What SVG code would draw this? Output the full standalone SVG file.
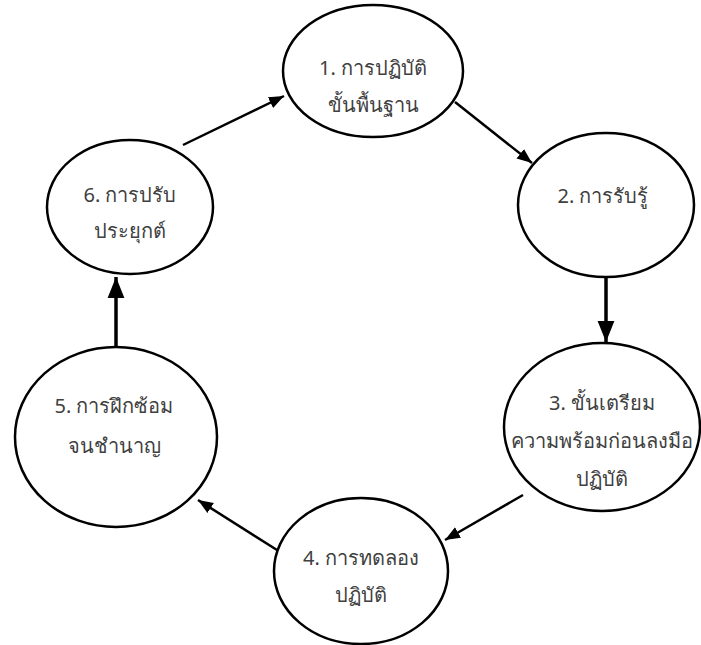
<svg xmlns="http://www.w3.org/2000/svg" width="701" height="645" viewBox="0 0 701 645">
<style>
.n{fill:#fff;stroke:#000;stroke-width:2.5}
.t{font-family:"Noto Sans","DejaVu Sans",sans-serif;font-size:20px;fill:#404040;text-anchor:middle}
.c{stroke:#000;stroke-width:2.5;fill:none}
.cb{stroke:#000;stroke-width:3.5;fill:none}
</style>
<defs>
<marker id="ah" viewBox="0 0 10 10" refX="10" refY="5" markerWidth="7" markerHeight="7" markerUnits="userSpaceOnUse" orient="auto">
<path d="M0,0 L10,5 L0,10 z" fill="#000"/>
</marker>
<marker id="a" viewBox="0 0 10 10" refX="10" refY="5" markerWidth="6" markerHeight="6" orient="auto">
<path d="M0,1 L10,5 L0,9 z" fill="#000"/>
</marker>
</defs>
<g id="connectors">
<line class="c" x1="183" y1="145" x2="284" y2="96" marker-end="url(#a)"/>
<line class="c" x1="455" y1="102" x2="532" y2="163" marker-end="url(#a)"/>
<line class="cb" x1="606" y1="278" x2="606" y2="342" marker-end="url(#a)"/>
<line class="c" x1="523" y1="495" x2="445" y2="540" marker-end="url(#a)"/>
<line class="c" x1="277" y1="550" x2="198" y2="500" marker-end="url(#a)"/>
<line class="cb" x1="116" y1="347" x2="116" y2="277" marker-end="url(#a)"/>
</g>
<g id="node1">
<ellipse class="n" cx="373" cy="71" rx="90" ry="66"/>
<text class="t" x="373" y="75">1. การปฏิบัติ</text>
<text class="t" x="373" y="112">ขั้นพื้นฐาน</text>
</g>
<g id="node2">
<ellipse class="n" cx="606" cy="205" rx="88" ry="72"/>
<text class="t" x="603" y="203">2. การรับรู้</text>
</g>
<g id="node3">
<ellipse class="n" cx="602" cy="427" rx="98" ry="84"/>
<text class="t" x="602" y="410">3. ขั้นเตรียม</text>
<text class="t" x="602" y="448">ความพร้อมก่อนลงมือ</text>
<text class="t" x="602" y="486">ปฏิบัติ</text>
</g>
<g id="node4">
<ellipse class="n" cx="361" cy="571" rx="87" ry="73"/>
<text class="t" x="361" y="565">4. การทดลอง</text>
<text class="t" x="361" y="602">ปฏิบัติ</text>
</g>
<g id="node5">
<ellipse class="n" cx="116" cy="437" rx="101" ry="90"/>
<text class="t" x="114" y="413">5. การฝึกซ้อม</text>
<text class="t" x="114" y="453">จนชำนาญ</text>
</g>
<g id="node6">
<ellipse class="n" cx="130" cy="207" rx="83" ry="67"/>
<text class="t" x="130" y="202">6. การปรับ</text>
<text class="t" x="130" y="238">ประยุกต์</text>
</g>
</svg>
